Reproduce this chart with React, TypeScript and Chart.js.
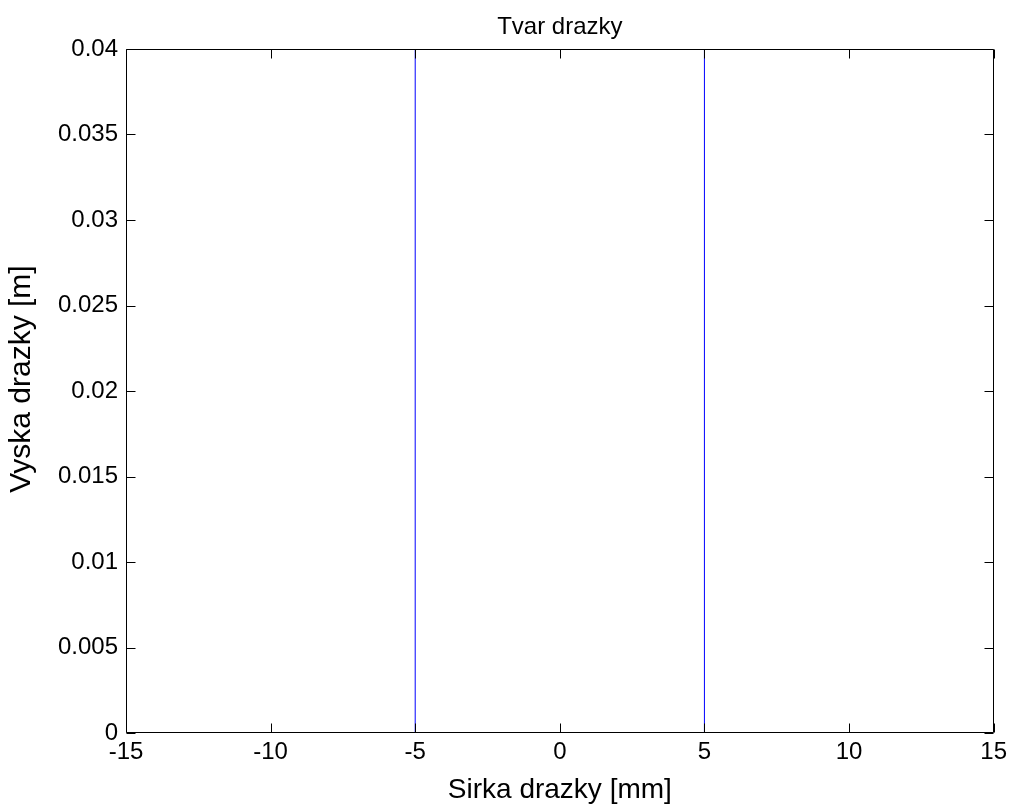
import React, { useEffect, useRef } from "react";
import { Chart, registerables } from "chart.js";

Chart.register(...registerables);

const chartTitle = "Tvar drazky";
const xAxisTitle = "Sirka drazky [mm]";
const yAxisTitle = "Vyska drazky [m]";

const xTickValues = [-15, -10, -5, 0, 5, 10, 15];
const xTickLabels = ["-15", "-10", "-5", "0", "5", "10", "15"];
const yTickValues = [0, 0.005, 0.01, 0.015, 0.02, 0.025, 0.03, 0.035, 0.04];
const yTickLabels = ["0", "0.005", "0.01", "0.015", "0.02", "0.025", "0.03", "0.035", "0.04"];

const leftWallX = [-5, -5];
const leftWallY = [0, 0.04];
const rightWallX = [5, 5];
const rightWallY = [0, 0.04];

const FONT = "'Liberation Sans', Arial, Helvetica, sans-serif";

const toPoints = (xs: number[], ys: number[]) => xs.map((x, i) => ({ x, y: ys[i] }));

const boxPlugin = {
  id: "matlabBox",
  afterDatasetsDraw(chart: any) {
    const { ctx, chartArea, scales } = chart;
    const { left, right, top, bottom } = chartArea;
    const L = Math.round(left) + 0.5;
    const R = Math.round(right) - 0.5;
    const T = Math.round(top) + 0.5;
    const B = Math.round(bottom) - 0.5;
    const tl = 9;
    ctx.save();
    ctx.strokeStyle = "#000";
    ctx.lineWidth = 1;
    ctx.beginPath();
    ctx.rect(L, T, R - L, B - T);
    xTickValues.forEach((v) => {
      const px = Math.round(scales.x.getPixelForValue(v)) + 0.5;
      ctx.moveTo(px, B);
      ctx.lineTo(px, B - tl);
      ctx.moveTo(px, T);
      ctx.lineTo(px, T + tl);
    });
    yTickValues.forEach((v) => {
      const py = Math.round(scales.y.getPixelForValue(v)) + 0.5;
      ctx.moveTo(L, py);
      ctx.lineTo(L + tl, py);
      ctx.moveTo(R, py);
      ctx.lineTo(R - tl, py);
    });
    ctx.stroke();
    // chart title
    ctx.fillStyle = "#000";
    ctx.font = `24px ${FONT}`;
    ctx.textAlign = "center";
    ctx.textBaseline = "middle";
    ctx.fillText(chartTitle, (left + right) / 2, 27);
    // y axis title
    ctx.font = `30px ${FONT}`;
    ctx.translate(22, (top + bottom) / 2 - 12);
    ctx.rotate(-Math.PI / 2);
    ctx.fillText(yAxisTitle, 0, 0);
    ctx.restore();
  },
};

export default function App() {
  const canvasRef = useRef<HTMLCanvasElement | null>(null);

  useEffect(() => {
    if (!canvasRef.current) return;
    const chart = new Chart(canvasRef.current, {
      type: "scatter",
      data: {
        datasets: [
          {
            data: toPoints(leftWallX, leftWallY),
            showLine: true,
            borderColor: "rgb(0,0,255)",
            borderWidth: 1,
            pointRadius: 0,
            fill: false,
          },
          {
            data: toPoints(rightWallX, rightWallY),
            showLine: true,
            borderColor: "rgb(0,0,255)",
            borderWidth: 1,
            pointRadius: 0,
            fill: false,
          },
        ],
      },
      options: {
        animation: false,
        responsive: false,
        maintainAspectRatio: false,
        devicePixelRatio: 1,
        layout: { padding: { top: 49, right: 18, bottom: 0, left: 0 } },
        plugins: {
          legend: { display: false },
          title: { display: false },
          tooltip: { enabled: false },
        },
        scales: {
          x: {
            type: "linear",
            min: -15,
            max: 15,
            afterFit: (s: any) => {
              s.height = 76;
            },
            afterBuildTicks: (s: any) => {
              s.ticks = xTickValues.map((v) => ({ value: v }));
            },
            grid: { display: false, drawTicks: false },
            border: { display: false },
            ticks: {
              color: "#000",
              font: { family: FONT, size: 24 },
              padding: 5,
              maxRotation: 0,
              autoSkip: false,
              callback: (v: any) => {
                const i = xTickValues.indexOf(Number(v));
                return i >= 0 ? xTickLabels[i] : "";
              },
            },
            title: {
              display: true,
              text: xAxisTitle,
              color: "#000",
              font: { family: FONT, size: 28 },
              padding: { top: 0, bottom: 2 },
            },
          },
          y: {
            type: "linear",
            min: 0,
            max: 0.04,
            afterFit: (s: any) => {
              s.width = 126;
            },
            afterBuildTicks: (s: any) => {
              s.ticks = yTickValues.map((v) => ({ value: v }));
            },
            grid: { display: false, drawTicks: false },
            border: { display: false },
            ticks: {
              color: "#000",
              font: { family: FONT, size: 24 },
              padding: 8,
              autoSkip: false,
              callback: (v: any) => {
                const i = yTickValues.findIndex((t) => Math.abs(t - Number(v)) < 1e-9);
                return i >= 0 ? yTickLabels[i] : "";
              },
            },
            title: { display: false },
          },
        },
      },
      plugins: [boxPlugin],
    } as any);
    return () => chart.destroy();
  }, []);

  return (
    <div style={{ position: "absolute", left: 0, top: 0, width: 1012, height: 809, background: "#fff" }}>
      <canvas ref={canvasRef} width={1012} height={809} style={{ width: 1012, height: 809 }} />
    </div>
  );
}
